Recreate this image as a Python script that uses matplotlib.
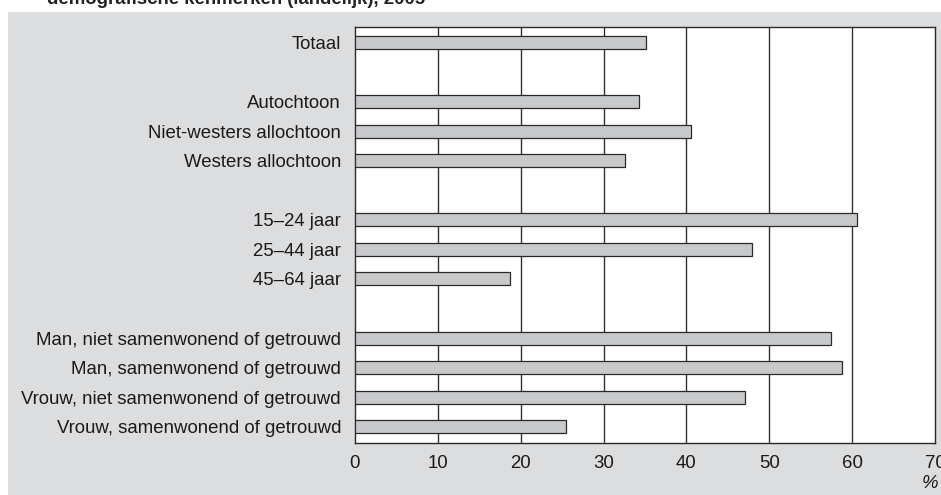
import matplotlib.pyplot as plt
from matplotlib.patches import Rectangle

plt.rcParams["font.family"] = ["Liberation Sans", "DejaVu Sans"]

# categories with empty slots between the groups
labels = [
    "Totaal",
    "Autochtoon",
    "Niet-westers allochtoon",
    "Westers allochtoon",
    "15\u201324 jaar",
    "25\u201344 jaar",
    "45\u201364 jaar",
    "Man, niet samenwonend of getrouwd",
    "Man, samenwonend of getrouwd",
    "Vrouw, niet samenwonend of getrouwd",
    "Vrouw, samenwonend of getrouwd",
]
values = [35.1, 34.3, 40.6, 32.6, 60.6, 47.9, 18.7, 57.5, 58.8, 47.1, 25.5]
slots = [0, 2, 3, 4, 6, 7, 8, 10, 11, 12, 13]
xticks = [0, 10, 20, 30, 40, 50, 60, 70]

W, H = 941, 495
fig = plt.figure(figsize=(W / 100, H / 100), dpi=100)
fig.patch.set_facecolor("white")

# grey panel behind the chart
fig.patches.append(Rectangle((8 / W, 0), 1 - 8 / W, 1 - 12 / H,
                             transform=fig.transFigure, facecolor="#dcdddf",
                             edgecolor="none", zorder=-5))

# title, cut off at the top like in the source
fig.text(47 / W, 1 - 4 / H, "demografische kenmerken (landelijk), 2005",
         fontsize=13.4, fontweight="bold", color="#222222", va="baseline")

ax = fig.add_axes([355 / W, 1 - 443 / H, 580 / W, 416 / H])
ax.set_zorder(1)
ax.set_facecolor("white")

ax.barh(slots, values, height=0.44, color="#c8c9cb", edgecolor="#2a2a2a",
        linewidth=0.9, zorder=3)

ax.set_xlim(0, 70)
ax.set_ylim(13.55, -0.52)
ax.set_xticks(xticks)
ax.set_xticklabels([str(t) for t in xticks], fontsize=13.4, color="#1a1a1a")
ax.set_yticks(slots)
ax.set_yticklabels(labels, fontsize=13.4, color="#1a1a1a")
ax.tick_params(length=0, pad=10)
ax.tick_params(axis="x", pad=9)

for x in xticks[1:-1]:
    ax.axvline(x, color="#333333", linewidth=1.0, zorder=2)

for s in ax.spines.values():
    s.set_color("#2a2a2a")
    s.set_linewidth(1.0)

fig.text(1 - 3 / W, 1 - 484 / H, "%", fontsize=13.4, style="italic",
         ha="right", va="center", color="#1a1a1a")

fig.savefig("out.png", dpi=100)
